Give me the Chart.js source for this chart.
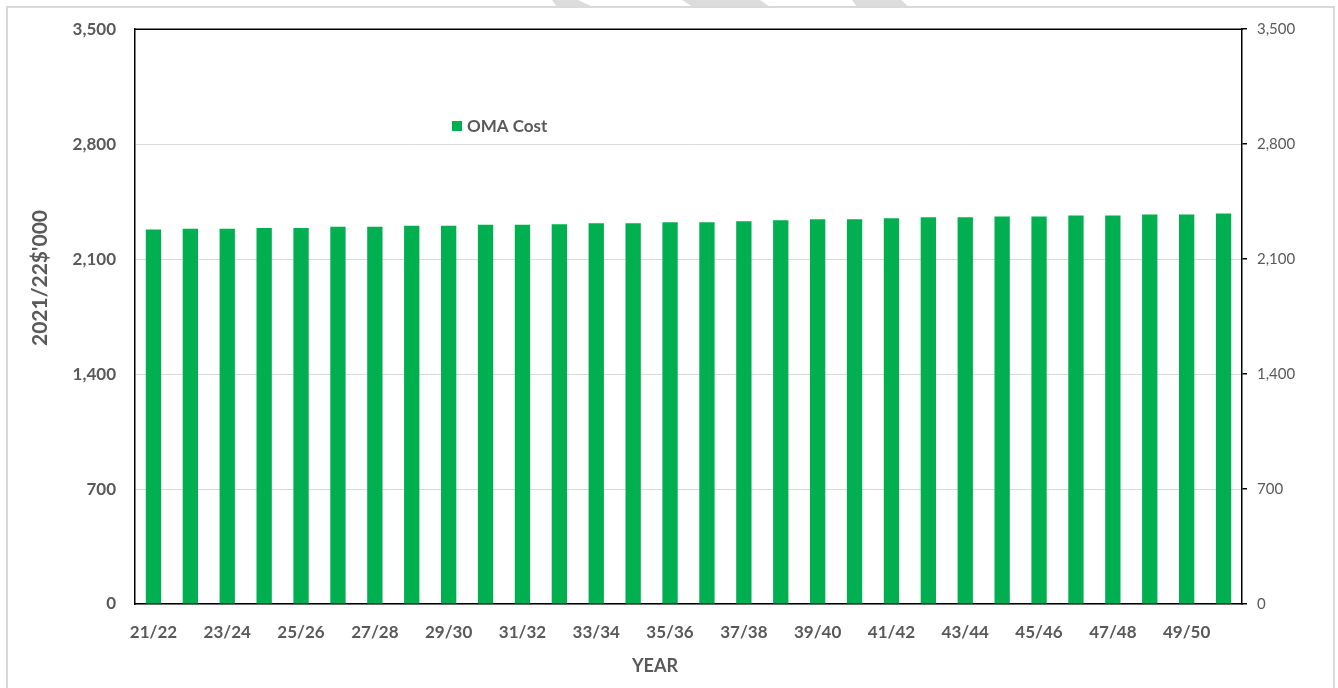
<!DOCTYPE html>
<html>
<head>
<meta charset="utf-8">
<title>OMA Cost</title>
<script src="https://cdn.jsdelivr.net/npm/chart.js@4/dist/chart.umd.min.js"></script>
<style>
  html, body { margin: 0; padding: 0; background: #ffffff; }
  #wrap { width: 1338px; height: 688px; }
</style>
</head>
<body>
<div id="wrap"><canvas id="c" width="1338" height="688"></canvas></div>
<script>
// Financial years shown on the category axis
const years = [
  '21/22','22/23','23/24','24/25','25/26','26/27','27/28','28/29','29/30','30/31',
  '31/32','32/33','33/34','34/35','35/36','36/37','37/38','38/39','39/40','40/41',
  '41/42','42/43','43/44','44/45','45/46','46/47','47/48','48/49','49/50','50/51'
];

// Operations, maintenance and administration cost, 2021/22 $'000
const omaCost = [
  2281, 2285, 2285, 2290, 2290, 2297, 2297, 2303, 2303, 2309,
  2309, 2313, 2319, 2319, 2325, 2325, 2331, 2337, 2343, 2343,
  2349, 2355, 2355, 2360, 2360, 2366, 2366, 2372, 2372, 2378
];

// Value axis ticks (both sides)
const valueTicks = [0, 700, 1400, 2100, 2800, 3500];

const seriesName = 'OMA Cost';
const yTitle = "2021/22$'000";
const xTitle = 'YEAR';

const GREEN = '#00B050';
const TEXT = '#595959';
const FONT = 'Lato, "Open Sans", "Liberation Sans", sans-serif';

// Page frame, plot-area outline, legend and axis titles
const decor = {
  id: 'decor',
  beforeDraw(chart) {
    const ctx = chart.ctx;
    ctx.save();
    ctx.fillStyle = '#ffffff';
    ctx.fillRect(0, 0, chart.width, chart.height);
    // faint diagonal marks above the frame
    ctx.fillStyle = '#dcdcdc';
    const marks = [
      [[552, 0], [578, 0], [593, 7], [557, 7]],
      [[682, 0], [760, 0], [770, 7], [693, 7]],
      [[852, 0], [901, 0], [909, 7], [857, 7]]
    ];
    marks.forEach(p => {
      ctx.beginPath();
      ctx.moveTo(p[0][0], p[0][1]);
      for (let i = 1; i < p.length; i++) ctx.lineTo(p[i][0], p[i][1]);
      ctx.closePath();
      ctx.fill();
    });
    ctx.strokeStyle = '#d9d9d9';
    ctx.lineWidth = 2;
    ctx.strokeRect(7, 7, 1327, 700);
    ctx.restore();
  },
  afterDraw(chart) {
    const ctx = chart.ctx;
    const a = chart.chartArea;
    ctx.save();
    // top edge of the plot area
    ctx.strokeStyle = '#000000';
    ctx.lineWidth = 1.5;
    ctx.beginPath();
    ctx.moveTo(a.left - 0.75, a.top);
    ctx.lineTo(a.right + 0.75, a.top);
    ctx.stroke();

    // legend entry inside the plot
    const ds = chart.data.datasets[0];
    ctx.fillStyle = ds.backgroundColor;
    ctx.fillRect(452, 121, 10, 10);
    ctx.fillStyle = TEXT;
    ctx.font = 'bold 17px ' + FONT;
    ctx.textBaseline = 'middle';
    ctx.textAlign = 'left';
    ctx.fillText(ds.label, 467, 126.5);

    // category-axis title
    ctx.textAlign = 'center';
    ctx.font = 'bold 18px ' + FONT;
    ctx.fillText(xTitle, 655, 666);

    // value-axis title
    ctx.translate(40, 278);
    ctx.rotate(-Math.PI / 2);
    ctx.font = 'bold 21px ' + FONT;
    ctx.fillText(yTitle, 0, 0);
    ctx.restore();
  }
};

new Chart(document.getElementById('c'), {
  type: 'bar',
  data: {
    labels: years,
    datasets: [{
      label: seriesName,
      data: omaCost,
      backgroundColor: GREEN,
      borderWidth: 0,
      categoryPercentage: 1.0,
      barPercentage: 0.415,
      yAxisID: 'y'
    }]
  },
  options: {
    responsive: false,
    animation: false,
    devicePixelRatio: 1,
    layout: { padding: { top: 29, left: 0, right: 0, bottom: 0 } },
    plugins: {
      legend: { display: false },
      tooltip: { enabled: false },
      title: { display: false }
    },
    scales: {
      x: {
        grid: { display: false, drawTicks: false },
        border: { display: true, color: '#000000', width: 1.5 },
        ticks: {
          autoSkip: false,
          maxRotation: 0,
          minRotation: 0,
          padding: 18,
          color: TEXT,
          font: { family: FONT, size: 17, weight: 'bold' },
          callback: function (v, i) { return i % 2 === 0 ? this.getLabelForValue(v) : ''; }
        },
        afterFit(s) { s.height = 84; }
      },
      y: {
        position: 'left',
        min: 0,
        max: 3500,
        afterBuildTicks(s) { s.ticks = valueTicks.map(v => ({ value: v })); },
        grid: { color: '#d9d9d9', lineWidth: 1, drawTicks: false },
        border: { display: true, color: '#000000', width: 1.5 },
        ticks: {
          padding: 19,
          color: TEXT,
          font: { family: FONT, size: 17, weight: 'bold' },
          callback: v => v.toLocaleString('en-US')
        },
        afterFit(s) { s.width = 135; }
      },
      y2: {
        position: 'right',
        min: 0,
        max: 3500,
        afterBuildTicks(s) { s.ticks = valueTicks.map(v => ({ value: v })); },
        grid: { drawOnChartArea: false, drawTicks: true, tickLength: 5, color: '#000000', lineWidth: 1.5 },
        border: { display: true, color: '#000000', width: 1.5 },
        ticks: {
          padding: 10,
          color: TEXT,
          font: { family: FONT, size: 15 },
          callback: v => v.toLocaleString('en-US')
        },
        afterFit(s) { s.width = 96; }
      }
    }
  },
  plugins: [decor]
});
</script>
</body>
</html>
